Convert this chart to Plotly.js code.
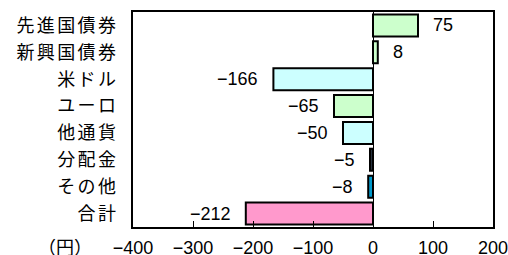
<!DOCTYPE html>
<html>
<head>
<meta charset="utf-8">
<script src="https://cdn.plot.ly/plotly-3.0.1.min.js"></script>
<style>
html,body{margin:0;padding:0;background:#fff;}
#chart{width:508px;height:255px;}
#chart .ytick text{letter-spacing:2.4px;}
</style>
</head>
<body>
<div id="chart"></div>
<script>
const categories = ["先進国債券","新興国債券","米ドル","ユーロ","他通貨","分配金","その他","合計"];
const values = [75, 8, -166, -65, -50, -5, -8, -212];
const barColors = ["#CCFFCC","#CCFFCC","#CCFFFF","#CCFFCC","#CCFFFF","#26313D","#0099CC","#FF99CC"];
const xTickVals = [-400, -300, -200, -100, 0, 100, 200];
const unitLabel = "（円）";

const fontFamily = "'Liberation Sans', 'Noto Sans CJK JP', sans-serif";

const trace = {
  type: "bar",
  orientation: "h",
  x: values,
  y: categories,
  marker: {color: barColors, line: {color: "#000", width: 2}},
  hoverinfo: "none"
};

const annotations = values.map((v, i) => ({
  x: v,
  y: categories[i],
  xref: "x",
  yref: "y",
  text: String(v).replace("-", "−"),
  showarrow: false,
  xanchor: v >= 0 ? "left" : "right",
  xshift: v >= 0 ? 13 : -13,
  font: {family: fontFamily, size: 18, color: "#000"}
}));
annotations.push({
  xref: "paper", yref: "paper",
  x: -0.19, y: -0.09,
  xanchor: "center", yanchor: "middle",
  text: unitLabel,
  showarrow: false,
  font: {family: "'Noto Sans CJK JP', sans-serif", size: 18, color: "#000"}
});

const layout = {
  width: 508,
  height: 255,
  margin: {l: 133, r: 15, t: 12, b: 28},
  paper_bgcolor: "#fff",
  plot_bgcolor: "#fff",
  showlegend: false,
  bargap: 0.18,
  xaxis: {
    range: [-400, 200],
    tickvals: xTickVals,
    ticks: "inside",
    ticklen: 6,
    tickwidth: 1,
    tickcolor: "#000",
    showgrid: false,
    zeroline: true,
    zerolinecolor: "#000",
    zerolinewidth: 1,
    showline: true,
    linecolor: "#000",
    linewidth: 2,
    mirror: true,
    ticklabelstandoff: 3,
    ticklabeloverflow: "allow",
    tickfont: {family: fontFamily, size: 18, color: "#000"},
    fixedrange: true
  },
  yaxis: {
    type: "category",
    categoryarray: categories,
    autorange: "reversed",
    ticks: "",
    showgrid: false,
    showline: true,
    linecolor: "#000",
    linewidth: 2,
    mirror: true,
    ticklabelstandoff: 9,
    tickfont: {family: "'Noto Sans CJK JP', sans-serif", size: 18, color: "#000"},
    fixedrange: true
  },
  annotations: annotations
};

Plotly.newPlot("chart", [trace], layout, {displayModeBar: false, staticPlot: true});
</script>
</body>
</html>
